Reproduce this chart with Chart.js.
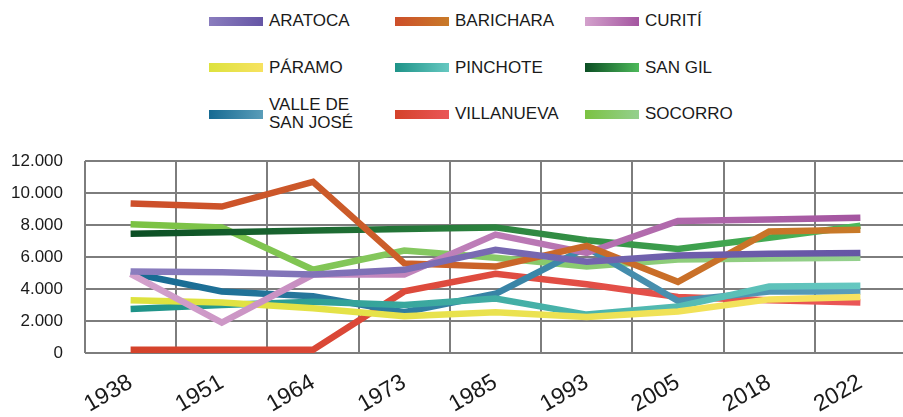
<!DOCTYPE html>
<html>
<head>
<meta charset="utf-8">
<script src="https://cdn.jsdelivr.net/npm/chart.js@4/dist/chart.umd.min.js"></script>
<style>
    html, body { margin: 0; padding: 0; background: #fff; }
    body { width: 903px; height: 417px; overflow: hidden; position: relative; font-family: 'Liberation Sans', Arial, sans-serif; }
    #legend {
        position: absolute; left: 209px; top: -2px;
        display: grid; grid-template-columns: 186px 190px 190px; grid-auto-rows: 46.5px;
    }
    .item { display: flex; align-items: center; }
    .swatch { width: 54px; height: 9px; flex: none; margin-right: 6px; }
    .label { font-size: 17px; line-height: 18px; color: #1a1a1a; max-width: 110px; }
    #wrap { position: absolute; left: 0; top: 140px; width: 912px; height: 277px; }
</style>
</head>
<body>
<div id="legend"></div>
<div id="wrap"><canvas id="chart"></canvas></div>
<script>
// 年（カテゴリ）
const years = ['1938', '1951', '1964', '1973', '1985', '1993', '2005', '2018', '2022'];
const yTickLabels = ['0', '2.000', '4.000', '6.000', '8.000', '10.000', '12.000'];

// 各市町村の人口
const aratoca    = [5100, 5050, 4900, 5200, 6450, 5700, 6100, 6200, 6250];
const barichara  = [9350, 9150, 10700, 5600, 5400, 6700, 4450, 7600, 7700];
const curiti     = [4950, 1900, 4900, 4900, 7400, 6250, 8250, 8350, 8450];
const paramo     = [3300, 3150, 2800, 2300, 2550, 2250, 2600, 3350, 3500];
const pinchote   = [2750, 3000, 3200, 3000, 3400, 2400, 2900, 4150, 4200];
const sanGil     = [7450, 7550, 7650, 7750, 7850, 7050, 6500, 7200, 7950];
const valle      = [5000, 3850, 3550, 2550, 3700, 6600, 3250, 3850, 3850];
const villanueva = [200, 200, 200, 3850, 4950, 4300, 3500, 3300, 3150];
const socorro    = [8050, 7850, 5200, 6400, 5950, 5400, 5850, 5900, 5950];

const names = ['ARATOCA', 'BARICHARA', 'CURITÍ', 'PÁRAMO', 'PINCHOTE', 'SAN GIL', 'VALLE DE SAN JOSÉ', 'VILLANUEVA', 'SOCORRO'];
const values = [aratoca, barichara, curiti, paramo, pinchote, sanGil, valle, villanueva, socorro];
// グラデーション（左→右）
const colorsFrom = ['#8a7dbe', '#cd4e2a', '#d3a1cc', '#dde23e', '#1e9388', '#0b4e24', '#166a92', '#d4422a', '#7bc242'];
const colorsTo   = ['#6555a5', '#c87a28', '#a455a0', '#f7e260', '#66c8c1', '#4db95a', '#5a9db9', '#ea5657', '#94d08e'];

const textColor = '#1a1a1a';
const gridColor = '#7d7d7d';
const fontFamily = "'Liberation Sans', Arial, sans-serif";

// 凡例（HTML）
const legend = document.getElementById('legend');
names.forEach((name, i) => {
    const item = document.createElement('div');
    item.className = 'item';
    item.innerHTML = `<span class="swatch" style="background:linear-gradient(to right, ${colorsFrom[i]}, ${colorsTo[i]})"></span><span class="label">${name}</span>`;
    legend.appendChild(item);
});

function lineGradient(i) {
    return function(context) {
        const chart = context.chart;
        const xScale = chart.scales.x;
        if (!chart.chartArea || !xScale) {
            return colorsFrom[i];
        }
        const x0 = xScale.getPixelForValue(0);
        const x1 = xScale.getPixelForValue(years.length - 1);
        const g = chart.ctx.createLinearGradient(x0, 0, x1, 0);
        g.addColorStop(0, colorsFrom[i]);
        g.addColorStop(1, colorsTo[i]);
        return g;
    };
}

const ctx = document.getElementById('chart').getContext('2d');
new Chart(ctx, {
    type: 'line',
    data: {
        labels: years,
        datasets: names.map((name, i) => ({
            label: name,
            data: values[i],
            borderColor: lineGradient(i),
            borderWidth: 6.5,
            pointRadius: 0,
            tension: 0,
            fill: false
        }))
    },
    options: {
        responsive: true,
        maintainAspectRatio: false,
        animation: false,
        layout: {
            padding: { top: 21, right: 6, left: 0, bottom: 0 }
        },
        plugins: {
            legend: { display: false },
            tooltip: { enabled: false }
        },
        scales: {
            x: {
                offset: true,
                grid: {
                    offset: true,
                    color: gridColor,
                    lineWidth: 2,
                    drawTicks: false
                },
                border: { display: false },
                ticks: {
                    minRotation: 30,
                    maxRotation: 30,
                    padding: 16,
                    color: textColor,
                    font: { size: 23, family: fontFamily }
                },
                afterFit: function(scale) {
                    scale.height = 64;
                }
            },
            y: {
                min: 0,
                max: 12000,
                grid: {
                    color: gridColor,
                    lineWidth: 2,
                    drawTicks: true,
                    tickLength: 18,
                    tickColor: 'rgba(0,0,0,0)'
                },
                border: { display: false },
                ticks: {
                    stepSize: 2000,
                    padding: 4,
                    color: textColor,
                    font: { size: 17, family: fontFamily },
                    callback: function(value, index) {
                        return yTickLabels[index];
                    }
                },
                afterFit: function(scale) {
                    scale.width = 85;
                }
            }
        }
    }
});
</script>
</body>
</html>
